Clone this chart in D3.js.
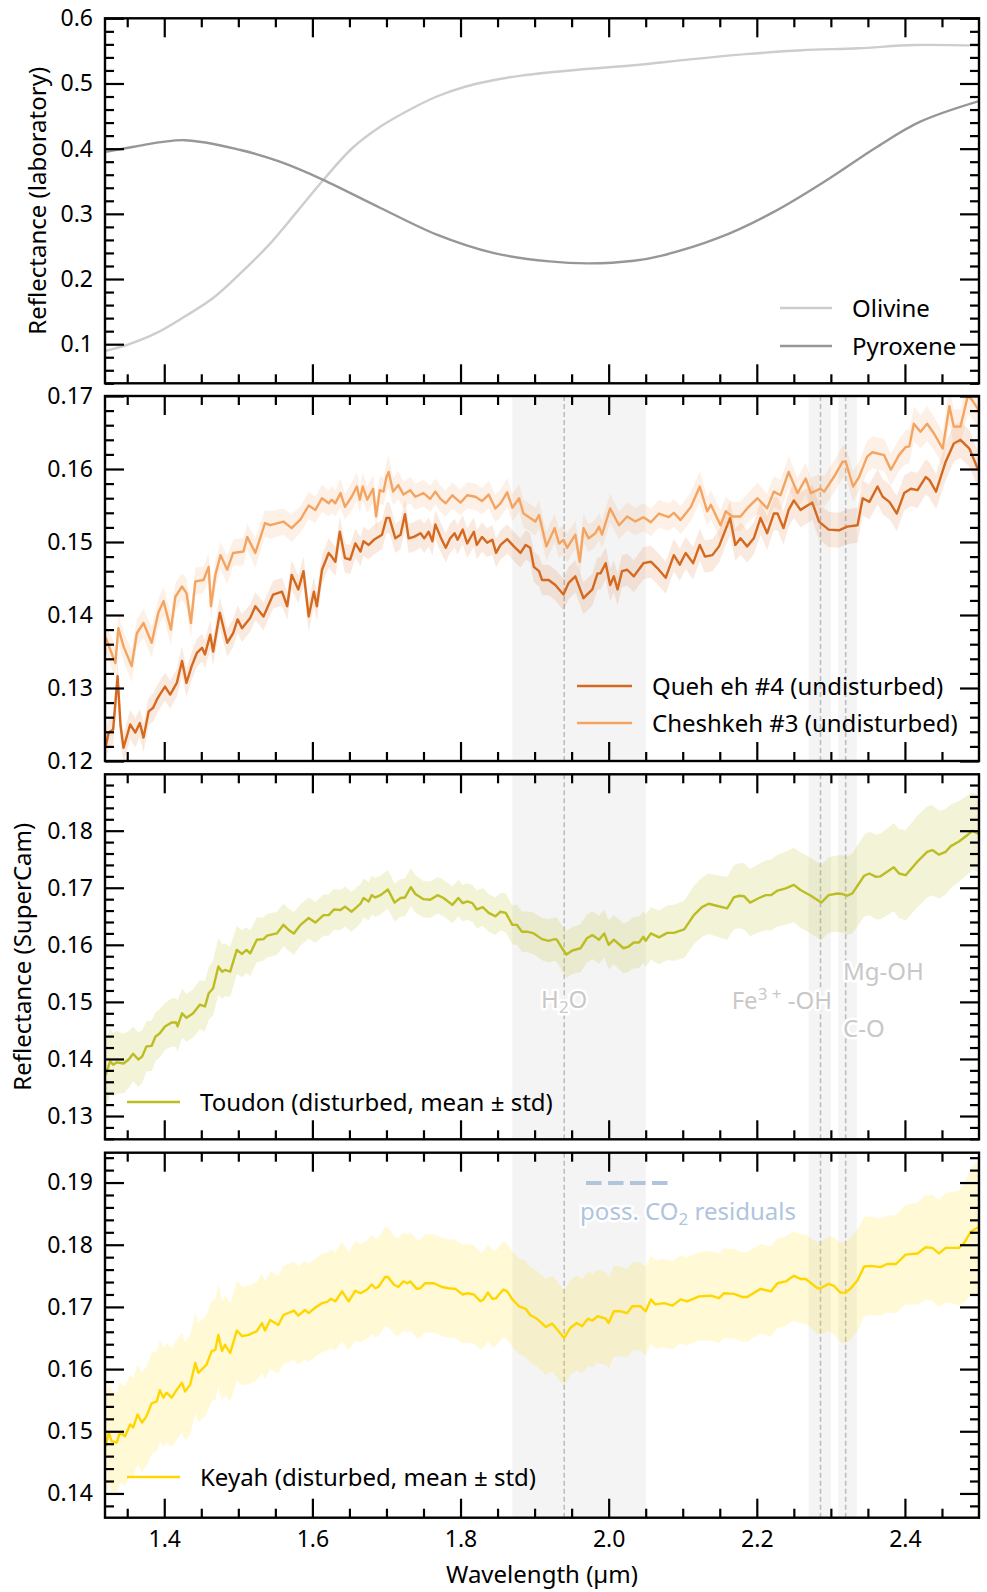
<!DOCTYPE html>
<html>
<head>
<meta charset="utf-8">
<style>
    body { margin: 0; background: #fff; }
    svg { display: block; font-family: 'Noto Sans', 'DejaVu Sans', sans-serif; }
    .tick text { font-size: 23px; fill: #000; font-family: 'Noto Sans', sans-serif; }
</style>
</head>
<body>
<svg width="987" height="1592"></svg>

<script src="https://d3js.org/d3.v7.min.js"></script>
<script>
    // ---- data: [wavelength µm, reflectance] ----
    let olivine = [[1.321,0.090],[1.351,0.0995],[1.389,0.117],[1.427,0.142],[1.465,0.170],[1.503,0.209],[1.541,0.252],[1.579,0.303],[1.617,0.355],[1.654,0.401],[1.692,0.434],[1.730,0.459],[1.768,0.480],[1.806,0.495],[1.844,0.505],[1.882,0.512],[1.958,0.521],[2.034,0.528],[2.110,0.537],[2.185,0.545],[2.261,0.551],[2.337,0.554],[2.413,0.559],[2.500,0.558]];

    let pyroxene = [[1.321,0.395],[1.359,0.403],[1.427,0.413],[1.503,0.398],[1.556,0.380],[1.613,0.353],[1.692,0.309],[1.768,0.268],[1.844,0.240],[1.920,0.227],[1.973,0.224],[2.034,0.228],[2.072,0.236],[2.148,0.263],[2.223,0.303],[2.299,0.355],[2.360,0.401],[2.420,0.441],[2.500,0.473]];

    // ---- SuperCam spectra: [wavelength, mean, std] ----
    let quehEh = [[1.321,0.1220,.0020],[1.325,0.1239,.0021],[1.331,0.1243,.0020],[1.337,0.1316,.0024],[1.341,0.1248,.0021],[1.345,0.1218,.0020],[1.354,0.1250,.0020],[1.361,0.1239,.0020],[1.367,0.1252,.0019],[1.372,0.1232,.0020],[1.379,0.1268,.0019],[1.385,0.1273,.0019],[1.390,0.1284,.0019],[1.394,0.1291,.0019],[1.401,0.1302,.0019],[1.408,0.1291,.0019],[1.417,0.1307,.0019],[1.424,0.1337,.0020],[1.430,0.1307,.0019],[1.437,0.1330,.0019],[1.444,0.1348,.0019],[1.451,0.1355,.0019],[1.455,0.1346,.0019],[1.462,0.1373,.0020],[1.466,0.1350,.0019],[1.475,0.1403,.0021],[1.485,0.1362,.0019],[1.493,0.1375,.0019],[1.499,0.1394,.0019],[1.505,0.1382,.0019],[1.516,0.1396,.0019],[1.523,0.1412,.0019],[1.534,0.1398,.0019],[1.547,0.1428,.0019],[1.559,0.1432,.0019],[1.566,0.1412,.0019],[1.572,0.1455,.0020],[1.581,0.1435,.0019],[1.588,0.1460,.0020],[1.595,0.1398,.0021],[1.602,0.1432,.0020],[1.606,0.1412,.0020],[1.613,0.1462,.0020],[1.622,0.1485,.0020],[1.626,0.1480,.0020],[1.631,0.1473,.0020],[1.637,0.1514,.0021],[1.644,0.1478,.0020],[1.651,0.1476,.0020],[1.658,0.1498,.0020],[1.665,0.1487,.0020],[1.669,0.1501,.0020],[1.676,0.1496,.0020],[1.683,0.1503,.0020],[1.694,0.1510,.0020],[1.700,0.1533,.0021],[1.704,0.1533,.0021],[1.712,0.1505,.0020],[1.719,0.1510,.0020],[1.725,0.1538,.0021],[1.730,0.1505,.0020],[1.737,0.1507,.0020],[1.746,0.1512,.0020],[1.751,0.1505,.0020],[1.757,0.1514,.0020],[1.762,0.1501,.0020],[1.766,0.1524,.0020],[1.773,0.1507,.0020],[1.780,0.1492,.0020],[1.786,0.1505,.0020],[1.792,0.1512,.0020],[1.796,0.1503,.0020],[1.803,0.1517,.0020],[1.809,0.1498,.0020],[1.818,0.1514,.0020],[1.822,0.1496,.0020],[1.829,0.1507,.0020],[1.836,0.1499,.0020],[1.843,0.1503,.0020],[1.848,0.1485,.0020],[1.854,0.1496,.0020],[1.863,0.1504,.0020],[1.872,0.1494,.0020],[1.881,0.1485,.0020],[1.888,0.1496,.0020],[1.894,0.1492,.0020],[1.899,0.1466,.0021],[1.906,0.1460,.0021],[1.910,0.1448,.0021],[1.919,0.1448,.0021],[1.928,0.1441,.0021],[1.939,0.1428,.0022],[1.946,0.1444,.0022],[1.955,0.1453,.0022],[1.966,0.1423,.0022],[1.978,0.1435,.0022],[1.985,0.1457,.0022],[1.989,0.1457,.0022],[1.996,0.1471,.0022],[2.002,0.1441,.0022],[2.007,0.1453,.0022],[2.012,0.1435,.0022],[2.018,0.1460,.0022],[2.025,0.1462,.0022],[2.034,0.1453,.0022],[2.047,0.1471,.0022],[2.057,0.1473,.0022],[2.066,0.1464,.0022],[2.077,0.1451,.0022],[2.088,0.1482,.0022],[2.096,0.1469,.0022],[2.104,0.1485,.0022],[2.114,0.1471,.0022],[2.123,0.1496,.0022],[2.130,0.1480,.0022],[2.140,0.1482,.0022],[2.149,0.1494,.0022],[2.164,0.1533,.0023],[2.171,0.1496,.0022],[2.178,0.1505,.0022],[2.187,0.1494,.0022],[2.196,0.1505,.0022],[2.205,0.1533,.0023],[2.214,0.1512,.0023],[2.223,0.1539,.0023],[2.228,0.1539,.0023],[2.236,0.1519,.0023],[2.243,0.1544,.0023],[2.250,0.1557,.0024],[2.259,0.1544,.0024],[2.275,0.1554,.0024],[2.284,0.1528,.0024],[2.297,0.1517,.0024],[2.311,0.1516,.0024],[2.322,0.1521,.0024],[2.336,0.1523,.0024],[2.343,0.1560,.0024],[2.352,0.1555,.0024],[2.363,0.1576,.0024],[2.370,0.1562,.0024],[2.379,0.1555,.0024],[2.389,0.1539,.0024],[2.399,0.1567,.0024],[2.408,0.1573,.0024],[2.417,0.1571,.0024],[2.428,0.1589,.0024],[2.433,0.1585,.0024],[2.442,0.1569,.0024],[2.455,0.1610,.0025],[2.466,0.1635,.0025],[2.475,0.1640,.0025],[2.487,0.1628,.0025],[2.498,0.1601,.0025]];

    let cheshkeh = [[1.321,0.1369,.0020],[1.334,0.1334,.0022],[1.338,0.1382,.0021],[1.345,0.1357,.0020],[1.356,0.1330,.0022],[1.363,0.1375,.0019],[1.372,0.1389,.0020],[1.383,0.1362,.0021],[1.392,0.1403,.0019],[1.399,0.1419,.0020],[1.409,0.1380,.0022],[1.415,0.1425,.0019],[1.424,0.1439,.0018],[1.430,0.1430,.0020],[1.436,0.1389,.0021],[1.442,0.1446,.0019],[1.453,0.1448,.0018],[1.460,0.1466,.0019],[1.463,0.1412,.0021],[1.469,0.1455,.0019],[1.476,0.1482,.0018],[1.485,0.1462,.0020],[1.493,0.1485,.0018],[1.507,0.1487,.0019],[1.512,0.1507,.0018],[1.523,0.1485,.0020],[1.536,0.1526,.0018],[1.543,0.1523,.0019],[1.561,0.1528,.0018],[1.572,0.1519,.0019],[1.584,0.1531,.0018],[1.595,0.1550,.0019],[1.604,0.1544,.0018],[1.613,0.1560,.0019],[1.622,0.1553,.0018],[1.626,0.1558,.0019],[1.631,0.1553,.0018],[1.638,0.1567,.0020],[1.644,0.1548,.0018],[1.653,0.1562,.0019],[1.660,0.1576,.0020],[1.664,0.1558,.0018],[1.668,0.1576,.0020],[1.674,0.1558,.0018],[1.682,0.1573,.0019],[1.686,0.1535,.0021],[1.691,0.1571,.0019],[1.696,0.1569,.0019],[1.700,0.1589,.0021],[1.703,0.1596,.0022],[1.709,0.1569,.0019],[1.716,0.1578,.0019],[1.723,0.1565,.0018],[1.732,0.1571,.0018],[1.739,0.1562,.0018],[1.750,0.1567,.0018],[1.759,0.1559,.0018],[1.766,0.1569,.0018],[1.773,0.1559,.0018],[1.780,0.1553,.0018],[1.789,0.1564,.0018],[1.800,0.1554,.0018],[1.809,0.1564,.0018],[1.820,0.1562,.0018],[1.829,0.1556,.0018],[1.838,0.1565,.0019],[1.847,0.1546,.0019],[1.854,0.1553,.0019],[1.863,0.1568,.0020],[1.870,0.1547,.0019],[1.879,0.1560,.0019],[1.885,0.1539,.0019],[1.894,0.1533,.0019],[1.901,0.1528,.0019],[1.906,0.1537,.0019],[1.916,0.1494,.0020],[1.927,0.1519,.0020],[1.933,0.1498,.0020],[1.939,0.1503,.0020],[1.944,0.1492,.0020],[1.955,0.1510,.0019],[1.961,0.1473,.0021],[1.966,0.1519,.0020],[1.973,0.1505,.0019],[1.982,0.1512,.0019],[1.987,0.1521,.0019],[1.991,0.1510,.0019],[2.002,0.1546,.0020],[2.014,0.1523,.0019],[2.025,0.1535,.0019],[2.036,0.1528,.0019],[2.047,0.1534,.0019],[2.057,0.1527,.0019],[2.068,0.1539,.0019],[2.081,0.1534,.0019],[2.088,0.1540,.0019],[2.097,0.1530,.0019],[2.111,0.1548,.0020],[2.123,0.1576,.0021],[2.133,0.1542,.0020],[2.138,0.1551,.0020],[2.151,0.1523,.0020],[2.158,0.1542,.0020],[2.167,0.1535,.0020],[2.178,0.1535,.0020],[2.187,0.1546,.0020],[2.201,0.1560,.0021],[2.214,0.1546,.0020],[2.223,0.1569,.0021],[2.232,0.1564,.0021],[2.243,0.1596,.0022],[2.255,0.1567,.0021],[2.266,0.1587,.0022],[2.273,0.1567,.0021],[2.286,0.1573,.0021],[2.291,0.1569,.0021],[2.304,0.1589,.0022],[2.316,0.1610,.0022],[2.320,0.1610,.0022],[2.330,0.1576,.0021],[2.338,0.1589,.0021],[2.349,0.1617,.0022],[2.356,0.1623,.0022],[2.372,0.1619,.0022],[2.381,0.1599,.0022],[2.392,0.1619,.0022],[2.401,0.1630,.0023],[2.406,0.1631,.0023],[2.412,0.1662,.0024],[2.421,0.1651,.0023],[2.430,0.1662,.0024],[2.439,0.1649,.0023],[2.451,0.1628,.0023],[2.460,0.1686,.0025],[2.466,0.1658,.0024],[2.475,0.1658,.0024],[2.485,0.1701,.0025],[2.491,0.1694,.0025],[2.500,0.1680,.0025]];

    let toudon = [[1.321,0.1372,.0060],[1.327,0.1396,.0058],[1.331,0.1390,.0056],[1.336,0.1394,.0055],[1.345,0.1392,.0052],[1.352,0.1399,.0050],[1.358,0.1409,.0048],[1.365,0.1399,.0048],[1.370,0.1404,.0046],[1.376,0.1422,.0044],[1.383,0.1423,.0044],[1.388,0.1439,.0043],[1.394,0.1445,.0042],[1.401,0.1457,.0041],[1.410,0.1464,.0042],[1.416,0.1464,.0043],[1.418,0.1457,.0045],[1.424,0.1480,.0043],[1.430,0.1472,.0042],[1.439,0.1480,.0042],[1.448,0.1495,.0043],[1.455,0.1492,.0044],[1.460,0.1515,.0046],[1.466,0.1524,.0048],[1.473,0.1562,.0050],[1.478,0.1553,.0048],[1.482,0.1556,.0046],[1.489,0.1553,.0044],[1.498,0.1591,.0042],[1.505,0.1584,.0041],[1.511,0.1591,.0040],[1.516,0.1585,.0040],[1.525,0.1609,.0039],[1.534,0.1610,.0038],[1.539,0.1616,.0038],[1.552,0.1620,.0038],[1.561,0.1635,.0037],[1.568,0.1626,.0037],[1.575,0.1620,.0037],[1.584,0.1635,.0036],[1.595,0.1647,.0036],[1.604,0.1639,.0036],[1.615,0.1652,.0036],[1.622,0.1652,.0036],[1.629,0.1662,.0036],[1.638,0.1661,.0035],[1.644,0.1667,.0035],[1.653,0.1658,.0035],[1.665,0.1672,.0034],[1.669,0.1682,.0034],[1.676,0.1676,.0034],[1.680,0.1687,.0034],[1.685,0.1683,.0034],[1.692,0.1687,.0034],[1.702,0.1697,.0034],[1.711,0.1674,.0033],[1.719,0.1682,.0033],[1.725,0.1683,.0033],[1.733,0.1701,.0033],[1.739,0.1689,.0033],[1.750,0.1680,.0032],[1.759,0.1679,.0032],[1.769,0.1687,.0032],[1.777,0.1682,.0032],[1.789,0.1670,.0032],[1.797,0.1682,.0032],[1.803,0.1673,.0032],[1.809,0.1676,.0032],[1.816,0.1673,.0032],[1.822,0.1662,.0033],[1.830,0.1666,.0033],[1.838,0.1656,.0033],[1.847,0.1650,.0033],[1.854,0.1658,.0033],[1.861,0.1656,.0034],[1.870,0.1635,.0034],[1.876,0.1635,.0035],[1.883,0.1623,.0035],[1.890,0.1623,.0036],[1.899,0.1620,.0036],[1.910,0.1610,.0037],[1.919,0.1607,.0038],[1.927,0.1610,.0038],[1.930,0.1609,.0039],[1.937,0.1594,.0040],[1.943,0.1583,.0041],[1.951,0.1590,.0041],[1.962,0.1594,.0042],[1.971,0.1612,.0042],[1.978,0.1617,.0042],[1.987,0.1609,.0042],[1.994,0.1620,.0042],[2.000,0.1600,.0043],[2.007,0.1609,.0043],[2.020,0.1594,.0044],[2.027,0.1597,.0044],[2.034,0.1604,.0045],[2.041,0.1604,.0045],[2.047,0.1614,.0045],[2.050,0.1607,.0046],[2.057,0.1620,.0046],[2.068,0.1613,.0047],[2.079,0.1621,.0048],[2.088,0.1621,.0049],[2.102,0.1627,.0050],[2.115,0.1652,.0051],[2.126,0.1666,.0052],[2.135,0.1672,.0053],[2.147,0.1668,.0054],[2.160,0.1664,.0055],[2.169,0.1683,.0056],[2.176,0.1686,.0057],[2.183,0.1685,.0058],[2.191,0.1674,.0059],[2.203,0.1682,.0060],[2.212,0.1687,.0061],[2.219,0.1687,.0062],[2.228,0.1695,.0063],[2.239,0.1699,.0064],[2.250,0.1705,.0065],[2.259,0.1696,.0066],[2.273,0.1686,.0066],[2.287,0.1674,.0066],[2.297,0.1687,.0066],[2.309,0.1690,.0067],[2.316,0.1689,.0068],[2.322,0.1686,.0069],[2.329,0.1690,.0070],[2.345,0.1721,.0072],[2.352,0.1725,.0073],[2.361,0.1719,.0074],[2.367,0.1720,.0075],[2.385,0.1736,.0077],[2.392,0.1725,.0078],[2.401,0.1722,.0079],[2.417,0.1746,.0080],[2.430,0.1763,.0080],[2.437,0.1766,.0079],[2.446,0.1758,.0077],[2.455,0.1763,.0075],[2.462,0.1773,.0073],[2.473,0.1781,.0071],[2.485,0.1793,.0069],[2.491,0.1800,.0068],[2.500,0.1794,.0068]];

    let keyah = [[1.321,0.1476,.0080],[1.325,0.1498,.0082],[1.329,0.1484,.0081],[1.336,0.1482,.0080],[1.340,0.1498,.0081],[1.347,0.1492,.0080],[1.354,0.1511,.0080],[1.358,0.1506,.0079],[1.364,0.1527,.0080],[1.370,0.1514,.0080],[1.376,0.1524,.0080],[1.383,0.1545,.0081],[1.390,0.1548,.0080],[1.394,0.1566,.0081],[1.399,0.1554,.0080],[1.403,0.1562,.0080],[1.410,0.1554,.0079],[1.417,0.1567,.0080],[1.424,0.1578,.0080],[1.428,0.1564,.0079],[1.435,0.1575,.0080],[1.442,0.1610,.0081],[1.446,0.1594,.0080],[1.457,0.1607,.0080],[1.464,0.1629,.0081],[1.469,0.1631,.0080],[1.473,0.1655,.0082],[1.478,0.1629,.0080],[1.482,0.1639,.0080],[1.489,0.1626,.0079],[1.498,0.1662,.0080],[1.505,0.1653,.0079],[1.514,0.1655,.0079],[1.525,0.1661,.0079],[1.532,0.1674,.0080],[1.536,0.1662,.0079],[1.543,0.1679,.0079],[1.554,0.1671,.0078],[1.561,0.1687,.0079],[1.575,0.1694,.0079],[1.581,0.1686,.0079],[1.590,0.1695,.0079],[1.595,0.1690,.0079],[1.604,0.1699,.0079],[1.613,0.1706,.0079],[1.620,0.1708,.0079],[1.625,0.1713,.0079],[1.631,0.1709,.0079],[1.640,0.1725,.0080],[1.649,0.1709,.0079],[1.658,0.1726,.0080],[1.665,0.1722,.0079],[1.674,0.1728,.0079],[1.680,0.1736,.0080],[1.685,0.1730,.0079],[1.689,0.1732,.0079],[1.698,0.1748,.0080],[1.702,0.1748,.0080],[1.710,0.1736,.0079],[1.716,0.1732,.0079],[1.723,0.1741,.0079],[1.728,0.1738,.0079],[1.732,0.1741,.0079],[1.741,0.1729,.0079],[1.746,0.1730,.0079],[1.752,0.1738,.0079],[1.764,0.1738,.0079],[1.775,0.1732,.0079],[1.784,0.1730,.0079],[1.793,0.1729,.0079],[1.803,0.1720,.0079],[1.809,0.1722,.0079],[1.818,0.1720,.0079],[1.827,0.1709,.0078],[1.831,0.1712,.0078],[1.837,0.1723,.0078],[1.843,0.1713,.0078],[1.848,0.1714,.0077],[1.852,0.1720,.0077],[1.858,0.1728,.0077],[1.863,0.1725,.0077],[1.870,0.1712,.0077],[1.879,0.1701,.0077],[1.888,0.1697,.0077],[1.894,0.1687,.0077],[1.903,0.1681,.0077],[1.915,0.1668,.0077],[1.924,0.1673,.0077],[1.940,0.1650,.0077],[1.948,0.1666,.0076],[1.957,0.1674,.0076],[1.964,0.1669,.0076],[1.972,0.1681,.0076],[1.978,0.1678,.0075],[1.985,0.1685,.0075],[1.996,0.1681,.0074],[2.000,0.1674,.0073],[2.007,0.1693,.0073],[2.016,0.1693,.0072],[2.025,0.1690,.0071],[2.032,0.1701,.0071],[2.043,0.1701,.0071],[2.050,0.1693,.0071],[2.057,0.1712,.0071],[2.063,0.1704,.0071],[2.075,0.1706,.0071],[2.086,0.1702,.0071],[2.097,0.1712,.0071],[2.106,0.1709,.0071],[2.122,0.1717,.0071],[2.138,0.1718,.0072],[2.149,0.1714,.0072],[2.156,0.1722,.0072],[2.169,0.1721,.0072],[2.180,0.1716,.0072],[2.187,0.1716,.0072],[2.205,0.1729,.0072],[2.219,0.1725,.0072],[2.228,0.1738,.0072],[2.239,0.1741,.0072],[2.250,0.1750,.0072],[2.259,0.1745,.0072],[2.266,0.1745,.0072],[2.282,0.1730,.0073],[2.286,0.1730,.0074],[2.297,0.1737,.0076],[2.304,0.1734,.0078],[2.313,0.1723,.0080],[2.320,0.1723,.0082],[2.327,0.1730,.0082],[2.336,0.1743,.0082],[2.345,0.1765,.0080],[2.354,0.1766,.0079],[2.367,0.1764,.0078],[2.376,0.1769,.0078],[2.388,0.1769,.0079],[2.401,0.1784,.0080],[2.417,0.1786,.0082],[2.428,0.1796,.0084],[2.437,0.1795,.0085],[2.446,0.1786,.0086],[2.455,0.1795,.0088],[2.473,0.1795,.0092],[2.480,0.1803,.0096],[2.489,0.1821,.0102],[2.500,0.1829,.0108]];

    // absorption features: shaded ranges and band centres (µm)
    let featureRanges = [[1.87, 2.05], [2.27, 2.30], [2.31, 2.335]];
    let featureCentres = [1.94, 2.286, 2.32];

    // tick labels
    let xTicks = [1.4, 1.6, 1.8, 2.0, 2.2, 2.4];
    let yTicksLab = [0.1, 0.2, 0.3, 0.4, 0.5, 0.6];
    let yTicksUndist = [0.12, 0.13, 0.14, 0.15, 0.16, 0.17];
    let yTicksToudon = [0.13, 0.14, 0.15, 0.16, 0.17, 0.18];
    let yTicksKeyah = [0.14, 0.15, 0.16, 0.17, 0.18, 0.19];


    let svg = d3.select("svg");
    let left = 105, right = 979, panelH = 365;
    let fs = "24px";

    let x = d3.scaleLinear().domain([1.32, 2.5]).range([left, right]);

    let panels = [
        { top: 18.3, domain: [0.04, 0.6], ticks: yTicksLab, minor: 0.02, fmt: ".1f", features: false },
        { top: 396, domain: [0.12, 0.17], ticks: yTicksUndist, minor: 0.002, fmt: ".2f", features: true },
        { top: 774.3, domain: [0.12592, 0.18988], ticks: yTicksToudon, minor: 0.002, fmt: ".2f", features: true },
        { top: 1152.7, domain: [0.1361, 0.1948], ticks: yTicksKeyah, minor: 0.002, fmt: ".2f", features: true }
    ];

    panels.forEach((p, i) => {
        p.y = d3.scaleLinear().domain(p.domain).range([p.top + panelH, p.top]);
        p.g = svg.append("g");
        svg.append("clipPath").attr("id", "clip" + i)
            .append("rect")
            .attr("x", left).attr("y", p.top)
            .attr("width", right - left).attr("height", panelH);
        p.plot = p.g.append("g").attr("clip-path", "url(#clip" + i + ")");

        if (p.features) {
            p.plot.selectAll(".band")
                .data(featureRanges)
                .join("rect")
                .attr("x", d => x(d[0]))
                .attr("width", d => x(d[1]) - x(d[0]))
                .attr("y", p.top)
                .attr("height", panelH)
                .style("fill", "#f4f4f4");
            p.plot.selectAll(".centre")
                .data(featureCentres)
                .join("line")
                .attr("x1", d => x(d)).attr("x2", d => x(d))
                .attr("y1", p.top).attr("y2", p.top + panelH)
                .style("stroke", "#bdbdbd")
                .style("stroke-width", 1.6)
                .style("stroke-dasharray", "5,3");
        }
    });

    function drawSpectrum(p, data, color, bandOpacity) {
        let area = d3.area()
            .x(d => x(d[0]))
            .y0(d => p.y(d[1] - d[2]))
            .y1(d => p.y(d[1] + d[2]));
        p.plot.append("path")
            .attr("d", area(data))
            .style("fill", color)
            .style("fill-opacity", bandOpacity)
            .style("stroke", "none");
        let line = d3.line().x(d => x(d[0])).y(d => p.y(d[1]));
        p.plot.append("path")
            .attr("d", line(data))
            .style("fill", "none")
            .style("stroke", color)
            .style("stroke-width", 2.4)
            .style("stroke-linejoin", "round");
    }

    function drawLab(p, data, color) {
        let line = d3.line().curve(d3.curveCatmullRom.alpha(0.5)).x(d => x(d[0])).y(d => p.y(d[1]));
        p.plot.append("path")
            .attr("d", line(data))
            .style("fill", "none")
            .style("stroke", color)
            .style("stroke-width", 2.4);
    }

    let c = {
        olivine: "#cdcdcd", pyroxene: "#979797",
        queh: "#d4691f", cheshkeh: "#f4a460",
        toudon: "#bcbd22", keyah: "#ffd700"
    };

    drawLab(panels[0], olivine, c.olivine);
    drawLab(panels[0], pyroxene, c.pyroxene);

    drawSpectrum(panels[1], quehEh, c.queh, 0.15);
    drawSpectrum(panels[1], cheshkeh, c.cheshkeh, 0.15);
    drawSpectrum(panels[2], toudon, c.toudon, 0.18);
    drawSpectrum(panels[3], keyah, c.keyah, 0.16);

    // annotations in the Toudon panel
    let ann = panels[2].g.append("g")
        .style("font-size", fs)
        .style("fill", "#c8c8c8")
        .style("stroke", "#fff")
        .style("stroke-width", 5)
        .style("stroke-linejoin", "round")
        .style("paint-order", "stroke");

    let h2o = ann.append("text").attr("x", x(1.94)).attr("y", 1008).attr("text-anchor", "middle");
    h2o.append("tspan").text("H");
    h2o.append("tspan").attr("dy", 5).style("font-size", "17px").text("2");
    h2o.append("tspan").attr("dy", -5).text("O");

    let fe = ann.append("text").attr("x", 832).attr("y", 1009).attr("text-anchor", "end");
    fe.append("tspan").text("Fe");
    fe.append("tspan").attr("dy", -9).style("font-size", "17px").text("3 +");
    fe.append("tspan").attr("dy", 9).text(" -OH");

    ann.append("text").attr("x", 843).attr("y", 980).text("Mg-OH");
    ann.append("text").attr("x", 843).attr("y", 1037).text("C-O");

    // CO2 note in the Keyah panel
    panels[3].g.append("line")
        .attr("x1", 586).attr("x2", 668)
        .attr("y1", 1183).attr("y2", 1183)
        .style("stroke", "#b0c4de")
        .style("stroke-width", 4)
        .style("stroke-dasharray", "15.5,6.5");
    let co2 = panels[3].g.append("text")
        .attr("x", 688).attr("y", 1220)
        .attr("text-anchor", "middle")
        .style("font-size", fs)
        .style("fill", "#b0c4de")
        .style("stroke", "#fff").style("stroke-width", 5)
        .style("paint-order", "stroke");
    co2.append("tspan").text("poss. CO");
    co2.append("tspan").attr("dy", 5).style("font-size", "17px").text("2");
    co2.append("tspan").attr("dy", -5).text(" residuals");

    // legends
    function legendItem(g, x1, x2, y, color, label) {
        g.append("line")
            .attr("x1", x1).attr("x2", x2).attr("y1", y).attr("y2", y)
            .style("stroke", color).style("stroke-width", 2.4);
        g.append("text")
            .attr("x", x2 + 20).attr("y", y + 9)
            .style("font-size", fs).style("fill", "#000")
            .text(label);
    }
    legendItem(panels[0].g, 780, 832, 308, c.olivine, "Olivine");
    legendItem(panels[0].g, 780, 832, 346, c.pyroxene, "Pyroxene");
    legendItem(panels[1].g, 577, 632, 686, c.queh, "Queh eh #4 (undisturbed)");
    legendItem(panels[1].g, 577, 632, 723, c.cheshkeh, "Cheshkeh #3 (undisturbed)");
    legendItem(panels[2].g, 127, 180, 1102, c.toudon, "Toudon (disturbed, mean \u00b1 std)");
    legendItem(panels[3].g, 127, 180, 1477, c.keyah, "Keyah (disturbed, mean \u00b1 std)");

    // axes: ticks inside on all four sides
    let xMinor = d3.range(1.35, 2.5, 0.05).filter(v => Math.abs(v * 5 - Math.round(v * 5)) > 1e-6);

    panels.forEach((p, i) => {
        let bottom = p.top + panelH;
        let yMinor = d3.range(Math.ceil(p.domain[0] / p.minor - 1e-6), Math.floor(p.domain[1] / p.minor + 1e-6) + 1)
            .map(k => k * p.minor)
            .filter(v => !p.ticks.some(t => Math.abs(t - v) < 1e-7));
        let yMajor = p.ticks.filter(t => t >= p.domain[0] - 1e-9 && t <= p.domain[1] + 1e-9);

        let axes = [
            [d3.axisLeft(p.y).tickValues(yMajor).tickSize(-19).tickPadding(12).tickFormat(d3.format(p.fmt)), `translate(${left},0)`],
            [d3.axisLeft(p.y).tickValues(yMinor).tickSize(-9).tickFormat(""), `translate(${left},0)`],
            [d3.axisRight(p.y).tickValues(yMajor).tickSize(-19).tickFormat(""), `translate(${right},0)`],
            [d3.axisRight(p.y).tickValues(yMinor).tickSize(-9).tickFormat(""), `translate(${right},0)`],
            [d3.axisTop(x).tickValues(xTicks).tickSize(-19).tickFormat(""), `translate(0,${p.top})`],
            [d3.axisTop(x).tickValues(xMinor).tickSize(-9).tickFormat(""), `translate(0,${p.top})`],
            [d3.axisBottom(x).tickValues(xTicks).tickSize(-19).tickPadding(13)
                .tickFormat(i == 3 ? d3.format(".1f") : ""), `translate(0,${bottom})`],
            [d3.axisBottom(x).tickValues(xMinor).tickSize(-9).tickFormat(""), `translate(0,${bottom})`]
        ];
        axes.forEach(a => {
            let g = p.g.append("g").attr("transform", a[1]).call(a[0]);
            g.select(".domain").remove();
            g.selectAll("line").style("stroke", "#000").style("stroke-width", 2.2);
            g.selectAll("text").style("font-size", "23px").style("fill", "#000");
        });

        p.g.append("rect")
            .attr("x", left).attr("y", p.top)
            .attr("width", right - left).attr("height", panelH)
            .style("fill", "none")
            .style("stroke", "#000")
            .style("stroke-width", 2.4);
    });

    // axis titles
    svg.append("text")
        .attr("transform", "translate(46,200.8) rotate(-90)")
        .attr("text-anchor", "middle")
        .style("font-size", fs)
        .text("Reflectance (laboratory)");
    svg.append("text")
        .attr("transform", "translate(30.5,956.8) rotate(-90)")
        .attr("text-anchor", "middle")
        .style("font-size", fs)
        .text("Reflectance (SuperCam)");
    svg.append("text")
        .attr("x", (left + right) / 2).attr("y", 1583)
        .attr("text-anchor", "middle")
        .style("font-size", fs)
        .text("Wavelength (\u00b5m)");
</script>
</body>
</html>
